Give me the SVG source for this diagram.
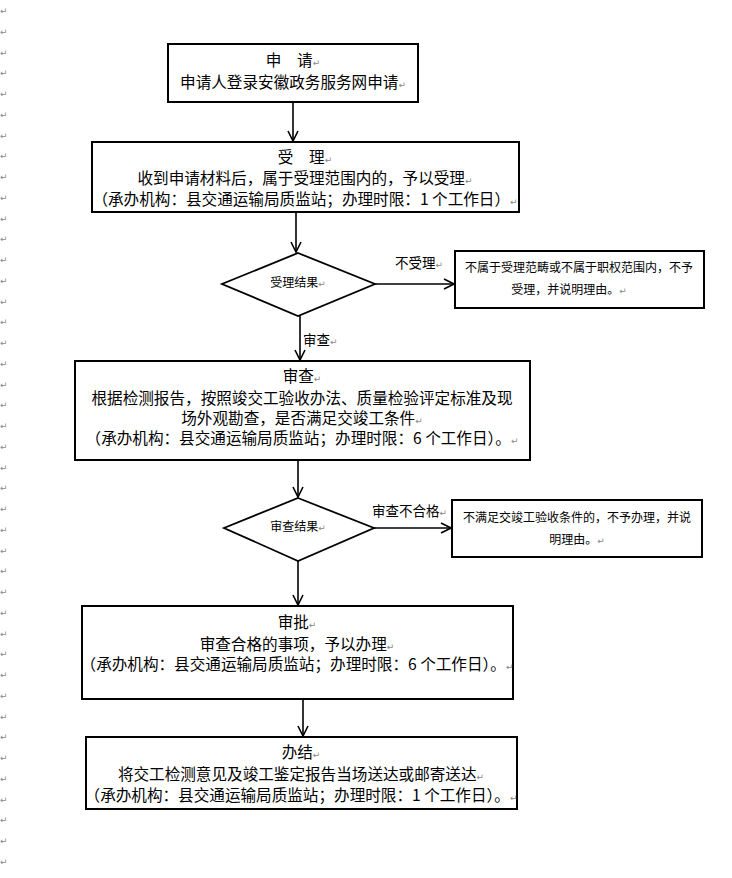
<svg xmlns="http://www.w3.org/2000/svg" width="732" height="878" viewBox="0 0 732 878">
<defs>
<style>
.box{fill:#fff;stroke:#000;stroke-width:2}
.dia{fill:#fff;stroke:#000;stroke-width:1.8}
.con{fill:none;stroke:#000;stroke-width:1.6}
.t{font-family:"Noto Sans CJK SC","Liberation Sans",sans-serif;font-size:15.6px;fill:#000;text-anchor:middle}
.s{font-family:"Noto Sans CJK SC","Liberation Sans",sans-serif;font-size:12px;fill:#000;text-anchor:middle}
.l{font-family:"Noto Sans CJK SC","Liberation Sans",sans-serif;font-size:13.5px;fill:#000}
.m{font-family:"DejaVu Sans",sans-serif;font-size:9px;fill:#888}
</style>
<marker id="arr" viewBox="0 0 12 12" refX="11" refY="6" markerWidth="12" markerHeight="12" markerUnits="userSpaceOnUse" orient="auto">
<polyline points="1,1 11,6 1,11" fill="none" stroke="#000" stroke-width="1.6"/>
</marker>
</defs>
<rect width="732" height="878" fill="#fff"/>
<g id="margin">
<text class="m" x="0"><tspan x="0" y="14">↵</tspan><tspan x="0" y="35">↵</tspan><tspan x="0" y="56">↵</tspan><tspan x="0" y="76">↵</tspan><tspan x="0" y="97">↵</tspan><tspan x="0" y="118">↵</tspan><tspan x="0" y="139">↵</tspan><tspan x="0" y="159">↵</tspan><tspan x="0" y="180">↵</tspan><tspan x="0" y="201">↵</tspan><tspan x="0" y="222">↵</tspan><tspan x="0" y="242">↵</tspan><tspan x="0" y="263">↵</tspan><tspan x="0" y="284">↵</tspan><tspan x="0" y="305">↵</tspan><tspan x="0" y="325">↵</tspan><tspan x="0" y="346">↵</tspan><tspan x="0" y="367">↵</tspan><tspan x="0" y="388">↵</tspan><tspan x="0" y="408">↵</tspan><tspan x="0" y="429">↵</tspan><tspan x="0" y="450">↵</tspan><tspan x="0" y="471">↵</tspan><tspan x="0" y="491">↵</tspan><tspan x="0" y="512">↵</tspan><tspan x="0" y="533">↵</tspan><tspan x="0" y="554">↵</tspan><tspan x="0" y="574">↵</tspan><tspan x="0" y="595">↵</tspan><tspan x="0" y="616">↵</tspan><tspan x="0" y="637">↵</tspan><tspan x="0" y="657">↵</tspan><tspan x="0" y="678">↵</tspan><tspan x="0" y="699">↵</tspan><tspan x="0" y="720">↵</tspan><tspan x="0" y="740">↵</tspan><tspan x="0" y="761">↵</tspan><tspan x="0" y="782">↵</tspan><tspan x="0" y="803">↵</tspan><tspan x="0" y="823">↵</tspan><tspan x="0" y="844">↵</tspan><tspan x="0" y="865">↵</tspan></text>
</g>
<g id="connectors">
<line class="con" x1="293" y1="102" x2="293" y2="141" marker-end="url(#arr)"/>
<line class="con" x1="296" y1="212" x2="296" y2="252" marker-end="url(#arr)"/>
<line class="con" x1="375" y1="284" x2="454" y2="284" marker-end="url(#arr)"/>
<line class="con" x1="300" y1="316" x2="300" y2="360" marker-end="url(#arr)"/>
<line class="con" x1="298" y1="460" x2="298" y2="497" marker-end="url(#arr)"/>
<line class="con" x1="374" y1="528" x2="451" y2="528" marker-end="url(#arr)"/>
<line class="con" x1="298" y1="561" x2="298" y2="605" marker-end="url(#arr)"/>
<line class="con" x1="303" y1="699" x2="303" y2="736" marker-end="url(#arr)"/>
<text class="l" x="395" y="268">不受理<tspan class="m">↵</tspan></text>
<text class="l" x="303" y="345">审查<tspan class="m">↵</tspan></text>
<text class="l" x="372" y="516">审查不合格<tspan class="m">↵</tspan></text>
</g>
<g id="apply">
<rect class="box" x="168" y="44" width="250" height="58"/>
<text class="t" x="293" y="66">申　请<tspan class="m">↵</tspan></text>
<text class="t" x="293" y="88">申请人登录安徽政务服务网申请<tspan class="m">↵</tspan></text>
</g>
<g id="accept">
<rect class="box" x="92" y="142" width="427" height="70"/>
<text class="t" x="305" y="163">受　理<tspan class="m">↵</tspan></text>
<text class="t" x="305" y="184">收到申请材料后，属于受理范围内的，予以受理<tspan class="m">↵</tspan></text>
<text class="t" x="305" y="205">（承办机构：县交通运输局质监站；办理时限：1 个工作日）<tspan class="m">↵</tspan></text>
</g>
<g id="decision1">
<polygon class="dia" points="298,253 375,284 298,316 222,284"/>
<text class="s" x="298" y="287">受理结果<tspan class="m">↵</tspan></text>
</g>
<g id="reject1">
<rect class="box" x="455" y="251" width="249" height="57"/>
<text class="s" x="579" y="272">不属于受理范畴或不属于职权范围内，不予</text>
<text class="s" x="569" y="294">受理，并说明理由。<tspan class="m">↵</tspan></text>
</g>
<g id="review">
<rect class="box" x="75" y="361" width="455" height="99"/>
<text class="t" x="302" y="382">审查<tspan class="m">↵</tspan></text>
<text class="t" x="302" y="404">根据检测报告，按照竣交工验收办法、质量检验评定标准及现</text>
<text class="t" x="302" y="424">场外观勘查，是否满足交竣工条件<tspan class="m">↵</tspan></text>
<text class="t" x="302" y="444">（承办机构：县交通运输局质监站；办理时限：6 个工作日）。<tspan class="m">↵</tspan></text>
</g>
<g id="decision2">
<polygon class="dia" points="298,498 374,528 298,561 224,528"/>
<text class="s" x="298" y="531">审查结果<tspan class="m">↵</tspan></text>
</g>
<g id="reject2">
<rect class="box" x="452" y="500" width="250" height="57"/>
<text class="s" x="577" y="522">不满足交竣工验收条件的，不予办理，并说</text>
<text class="s" x="577" y="544">明理由。<tspan class="m">↵</tspan></text>
</g>
<g id="approve">
<rect class="box" x="82" y="606" width="431" height="93"/>
<text class="t" x="297" y="628">审批<tspan class="m">↵</tspan></text>
<text class="t" x="297" y="650">审查合格的事项，予以办理<tspan class="m">↵</tspan></text>
<text class="t" x="297" y="670">（承办机构：县交通运输局质监站；办理时限：6 个工作日）。<tspan class="m">↵</tspan></text>
</g>
<g id="finish">
<rect class="box" x="86" y="737" width="431" height="72"/>
<text class="t" x="301" y="758">办结<tspan class="m">↵</tspan></text>
<text class="t" x="301" y="780">将交工检测意见及竣工鉴定报告当场送达或邮寄送达<tspan class="m">↵</tspan></text>
<text class="t" x="301" y="801">（承办机构：县交通运输局质监站；办理时限：1 个工作日）。<tspan class="m">↵</tspan></text>
</g>
</svg>
